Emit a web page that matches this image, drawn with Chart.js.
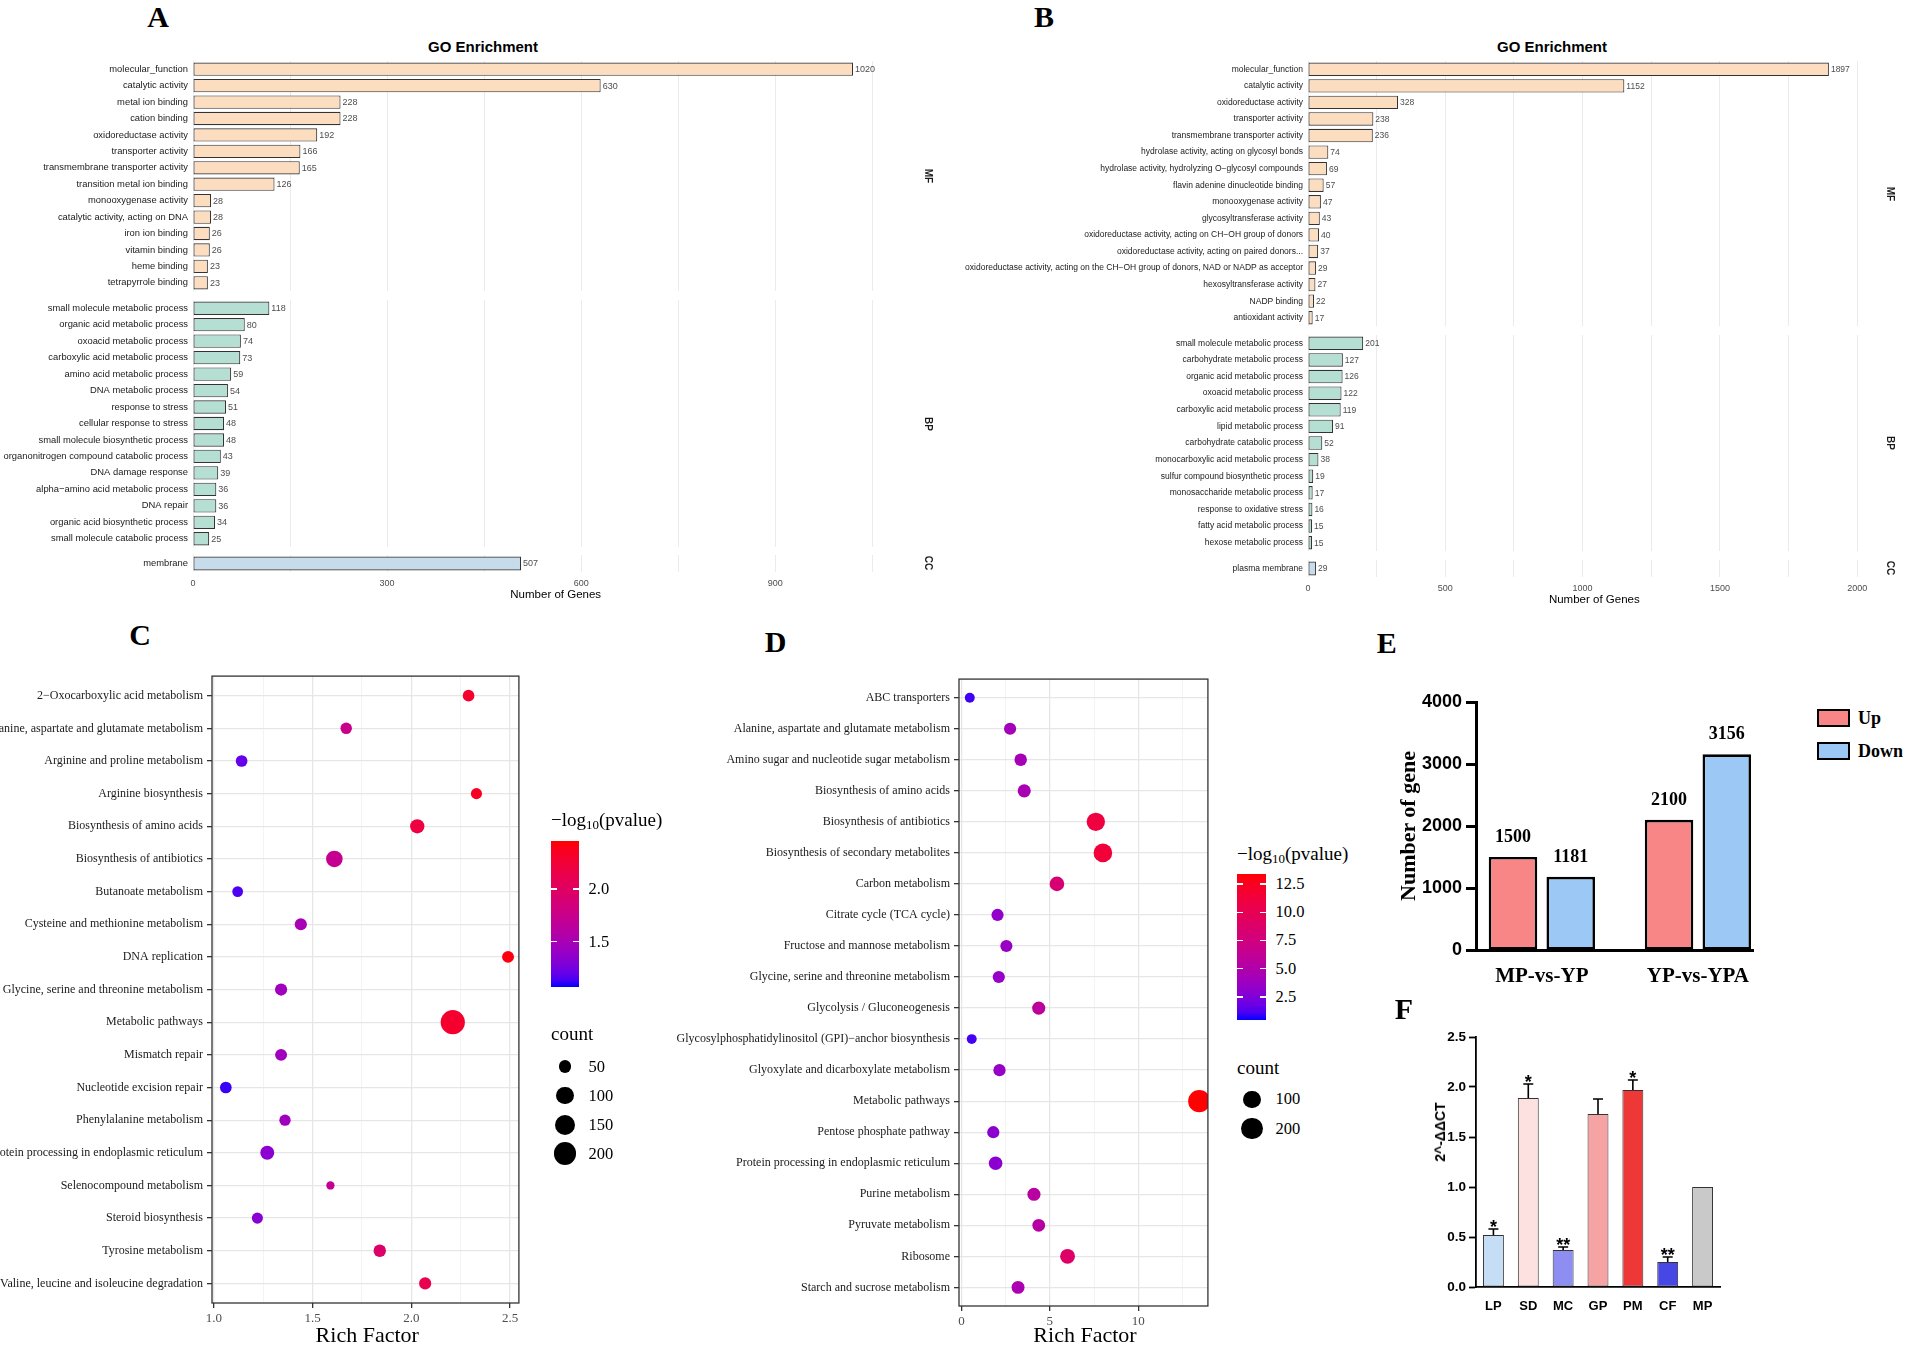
<!DOCTYPE html>
<html><head><meta charset="utf-8"><title>Figure</title>
<script src="https://cdn.jsdelivr.net/npm/chart.js@4.4.1/dist/chart.umd.min.js"></script>
<style>
html,body{margin:0;padding:0;background:#fff;}
#root{position:relative;width:1908px;height:1351px;overflow:hidden;background:#fff;}
#root canvas{position:absolute;}
.t{position:absolute;white-space:nowrap;line-height:1;}
.c{transform:translate(-50%,-50%);}
.lc{transform:translate(0,-50%);}
.rot{transform:translate(-50%,-50%) rotate(-90deg);}
.letter{font-family:"Liberation Serif",serif;font-weight:bold;font-size:30px;color:#000;}
.gotitle{font-family:"Liberation Sans",Arial,sans-serif;font-weight:bold;font-size:15px;color:#000;}
.xt{font-family:"Liberation Sans",Arial,sans-serif;font-size:11.5px;color:#000;}
.strip{font-family:"Liberation Sans",Arial,sans-serif;font-weight:bold;font-size:10px;color:#1a1a1a;transform:translate(-50%,-50%) rotate(90deg);}
.serif{font-family:"Liberation Serif",serif;color:#000;}
sub{font-size:68%;vertical-align:-0.28em;line-height:0;}
</style></head><body><div id="root"></div>
<script>
// ---------------- DATA ----------------
const A_MF_terms=['molecular_function','catalytic activity','metal ion binding','cation binding','oxidoreductase activity','transporter activity','transmembrane transporter activity','transition metal ion binding','monooxygenase activity','catalytic activity, acting on DNA','iron ion binding','vitamin binding','heme binding','tetrapyrrole binding'];
const A_MF_counts=[1020,630,228,228,192,166,165,126,28,28,26,26,23,23];
const A_BP_terms=['small molecule metabolic process','organic acid metabolic process','oxoacid metabolic process','carboxylic acid metabolic process','amino acid metabolic process','DNA metabolic process','response to stress','cellular response to stress','small molecule biosynthetic process','organonitrogen compound catabolic process','DNA damage response','alpha\u2212amino acid metabolic process','DNA repair','organic acid biosynthetic process','small molecule catabolic process'];
const A_BP_counts=[118,80,74,73,59,54,51,48,48,43,39,36,36,34,25];
const A_CC_terms=['membrane'];
const A_CC_counts=[507];
const A_xTicks=[0,300,600,900];

const B_MF_terms=['molecular_function','catalytic activity','oxidoreductase activity','transporter activity','transmembrane transporter activity','hydrolase activity, acting on glycosyl bonds','hydrolase activity, hydrolyzing O\u2212glycosyl compounds','flavin adenine dinucleotide binding','monooxygenase activity','glycosyltransferase activity','oxidoreductase activity, acting on CH\u2212OH group of donors','oxidoreductase activity, acting on paired donors...','oxidoreductase activity, acting on the CH\u2212OH group of donors, NAD or NADP as acceptor','hexosyltransferase activity','NADP binding','antioxidant activity'];
const B_MF_counts=[1897,1152,328,238,236,74,69,57,47,43,40,37,29,27,22,17];
const B_BP_terms=['small molecule metabolic process','carbohydrate metabolic process','organic acid metabolic process','oxoacid metabolic process','carboxylic acid metabolic process','lipid metabolic process','carbohydrate catabolic process','monocarboxylic acid metabolic process','sulfur compound biosynthetic process','monosaccharide metabolic process','response to oxidative stress','fatty acid metabolic process','hexose metabolic process'];
const B_BP_counts=[201,127,126,122,119,91,52,38,19,17,16,15,15];
const B_CC_terms=['plasma membrane'];
const B_CC_counts=[29];
const B_xTicks=[0,500,1000,1500,2000];

const C_terms=['2\u2212Oxocarboxylic acid metabolism','Alanine, aspartate and glutamate metabolism','Arginine and proline metabolism','Arginine biosynthesis','Biosynthesis of amino acids','Biosynthesis of antibiotics','Butanoate metabolism','Cysteine and methionine metabolism','DNA replication','Glycine, serine and threonine metabolism','Metabolic pathways','Mismatch repair','Nucleotide excision repair','Phenylalanine metabolism','Protein processing in endoplasmic reticulum','Selenocompound metabolism','Steroid biosynthesis','Tyrosine metabolism','Valine, leucine and isoleucine degradation'];
const C_rich=[2.29,1.67,1.14,2.33,2.03,1.61,1.12,1.44,2.49,1.34,2.21,1.34,1.06,1.36,1.27,1.59,1.22,1.84,2.07];
const C_logp=[2.30,1.76,1.20,2.35,2.20,1.72,1.15,1.50,2.43,1.45,2.30,1.45,1.11,1.45,1.34,1.70,1.33,1.95,2.12];
const C_count=[38,36,38,33,64,92,30,42,40,42,225,40,38,35,60,14,33,45,42];
const C_xTicks=[1.0,1.5,2.0,2.5];
const C_colorTicks=[1.5,2.0];
const C_sizeBreaks=[50,100,150,200];

const D_terms=['ABC transporters','Alanine, aspartate and glutamate metabolism','Amino sugar and nucleotide sugar metabolism','Biosynthesis of amino acids','Biosynthesis of antibiotics','Biosynthesis of secondary metabolites','Carbon metabolism','Citrate cycle (TCA cycle)','Fructose and mannose metabolism','Glycine, serine and threonine metabolism','Glycolysis / Gluconeogenesis','Glycosylphosphatidylinositol (GPI)\u2212anchor biosynthesis','Glyoxylate and dicarboxylate metabolism','Metabolic pathways','Pentose phosphate pathway','Protein processing in endoplasmic reticulum','Purine metabolism','Pyruvate metabolism','Ribosome','Starch and sucrose metabolism'];
const D_rich=[0.47,2.75,3.35,3.55,7.6,8.0,5.4,2.04,2.54,2.11,4.37,0.58,2.15,13.45,1.8,1.93,4.1,4.37,6.0,3.2];
const D_logp=[0.9,4.2,4.3,4.5,11.0,11.3,8.2,3.3,3.6,3.5,5.8,1.0,3.5,13.3,3.0,3.0,5.6,5.4,8.8,4.6];
const D_count=[12,30,33,40,120,125,58,30,30,30,40,12,30,205,30,45,40,36,62,38];
const D_xTicks=[0,5,10];
const D_colorTicks=[2.5,5.0,7.5,10.0,12.5];
const D_sizeBreaks=[100,200];

const E_groups=['MP-vs-YP','YP-vs-YPA'];
const E_up=[1500,2100];
const E_down=[1181,3156];
const E_yTicks=[0,1000,2000,3000,4000];

const F_samples=['LP','SD','MC','GP','PM','CF','MP'];
const F_values=[0.52,1.89,0.37,1.73,1.97,0.25,1.00];
const F_err=[0.06,0.14,0.03,0.15,0.10,0.05,0];
const F_sig=['*','*','**','','*','**',''];
const F_yTicks=[0,0.5,1.0,1.5,2.0,2.5];

// ---------------- HELPERS ----------------
const root=document.getElementById('root');
function txt(s,x,y,cls,style){const d=document.createElement('div');d.className='t '+cls;d.innerHTML=s;d.style.left=x+'px';d.style.top=y+'px';if(style)d.style.cssText+=';'+style;root.appendChild(d);return d;}
function box(x,y,w,h,style){const d=document.createElement('div');d.style.cssText='position:absolute;left:'+x+'px;top:'+y+'px;width:'+w+'px;height:'+h+'px;box-sizing:border-box;'+style;root.appendChild(d);return d;}
function mkCanvas(L,T,R,B,padL,padT,padR,padB){
  const x0=Math.round(L-padL),y0=Math.round(T-padT);
  const w=Math.round(R+padR)-x0,h=Math.round(B+padB)-y0;
  const c=document.createElement('canvas');
  c.width=w;c.height=h;c.style.left=x0+'px';c.style.top=y0+'px';c.style.width=w+'px';c.style.height=h+'px';
  root.appendChild(c);
  return {c,padL:Math.round(L)-x0,padT:Math.round(T)-y0,padR:x0+w-Math.round(R),padB:y0+h-Math.round(B)};
}
function fixW(w){return s=>{s.width=w;s.paddingTop=0;s.paddingBottom=0;s.paddingLeft=0;s.paddingRight=0;};}
function fixH(h){return s=>{s.height=h;s.paddingTop=0;s.paddingBottom=0;s.paddingLeft=0;s.paddingRight=0;};}
function s2l(c){c/=255;return c<=0.04045?c/12.92:Math.pow((c+0.055)/1.055,2.4);}
function l2s(c){c=c<=0.0031308?12.92*c:1.055*Math.pow(Math.max(c,0),1/2.4)-0.055;return Math.round(Math.max(0,Math.min(1,c))*255);}
function rgb2lab(r,g,b){const R=s2l(r),G=s2l(g),B=s2l(b);const X=(0.4124*R+0.3576*G+0.1805*B)/0.95047,Y=0.2126*R+0.7152*G+0.0722*B,Z=(0.0193*R+0.1192*G+0.9505*B)/1.08883;const f=t=>t>0.008856?Math.cbrt(t):7.787*t+16/116;const fx=f(X),fy=f(Y),fz=f(Z);return[116*fy-16,500*(fx-fy),200*(fy-fz)];}
function lab2rgb(L,a,b){const fy=(L+16)/116,fx=fy+a/500,fz=fy-b/200;const fi=t=>t*t*t>0.008856?t*t*t:(t-16/116)/7.787;const X=fi(fx)*0.95047,Y=fi(fy),Z=fi(fz)*1.08883;return[l2s(3.2406*X-1.5372*Y-0.4986*Z),l2s(-0.9689*X+1.8758*Y+0.0415*Z),l2s(0.0557*X-0.2040*Y+1.0570*Z)];}
const LAB_LO=rgb2lab(0,0,255),LAB_HI=rgb2lab(255,0,0);
function grad(t){t=Math.max(0,Math.min(1,t));const l=LAB_LO.map((v,i)=>v+(LAB_HI[i]-v)*t);const c=lab2rgb(l[0],l[1],l[2]);return 'rgb('+c[0]+','+c[1]+','+c[2]+')';}
const near=(a,v)=>a.some(t=>Math.abs(t-v)<1e-6);

const valueLabels={id:'vlab',afterDatasetsDraw(chart,args,o){
  const ctx=chart.ctx;const ds=chart.data.datasets;ctx.save();ctx.font=o.font;ctx.fillStyle=o.color;
  ds.forEach((d,di)=>{const meta=chart.getDatasetMeta(di);meta.data.forEach((bar,i)=>{
    const raw=d.data[i];const val=(raw!==null&&typeof raw==='object')?raw.y:raw;
    if(o.mode==='right'){ctx.textAlign='left';ctx.textBaseline='middle';ctx.fillText(String(val),bar.x+o.dx,bar.y+0.5);}
    else{ctx.textAlign='center';ctx.textBaseline='alphabetic';ctx.fillText(String(val),bar.x,bar.y-o.dy);}
  });});ctx.restore();}};
const framePlugin={id:'frame',afterDatasetsDraw(chart){const a=chart.chartArea,ctx=chart.ctx;ctx.save();ctx.strokeStyle='#333';ctx.lineWidth=1.3;ctx.strokeRect(a.left,a.top,a.right-a.left,a.bottom-a.top);ctx.restore();}};
const errPlugin={id:'errbars',afterDatasetsDraw(chart,args,o){
  const ys=chart.scales.y,ctx=chart.ctx,meta=chart.getDatasetMeta(0);ctx.save();ctx.strokeStyle='#000';ctx.lineWidth=1.6;ctx.fillStyle='#000';ctx.font=o.font;ctx.textAlign='center';ctx.textBaseline='alphabetic';
  meta.data.forEach((bar,i)=>{const top=ys.getPixelForValue(F_values[i]+F_err[i]);
    if(F_err[i]>0){ctx.beginPath();ctx.moveTo(bar.x,bar.y);ctx.lineTo(bar.x,top);ctx.moveTo(bar.x-o.cap,top);ctx.lineTo(bar.x+o.cap,top);ctx.stroke();}
    if(F_sig[i])ctx.fillText(F_sig[i],bar.x,top+o.dy);});
  ctx.restore();}};

Chart.defaults.animation=false;
Chart.defaults.plugins.legend.display=false;
Chart.defaults.plugins.tooltip.enabled=false;

// ---------------- GO FACETS ----------------
function goFacet(terms,counts,fill,o){
  const g=mkCanvas(o.L,o.T,o.R,o.B,o.labelW,2,30,o.axis?30:0);
  const grid=[];for(let v=0;v<=o.xmax;v+=o.minor)grid.push(v);
  return new Chart(g.c,{type:'bar',
    data:{labels:terms,datasets:[{data:counts,backgroundColor:fill,borderColor:'#333',borderWidth:1.1,borderSkipped:false,barPercentage:0.81,categoryPercentage:1}]},
    options:{indexAxis:'y',responsive:false,animation:false,events:[],
      layout:{padding:{left:0,top:g.padT,right:g.padR,bottom:0}},
      plugins:{legend:{display:false},tooltip:{enabled:false},vlab:{mode:'right',font:o.vfont,color:'#4d4d4d',dx:2}},
      scales:{
        x:{type:'linear',min:0,max:o.xmax,afterFit:fixH(g.padB),afterBuildTicks:s=>{s.ticks=grid.map(v=>({value:v}));},
          border:{display:false},grid:{color:'#ebebeb',lineWidth:1,drawTicks:false},
          ticks:{display:!!o.axis,autoSkip:false,maxRotation:0,padding:6,font:{family:'Liberation Sans',size:9},color:'#4d4d4d',callback:v=>near(o.ticks,v)?String(v):''}},
        y:{afterFit:fixW(g.padL),border:{display:false},grid:{display:false,drawTicks:false},
          ticks:{autoSkip:false,padding:5,font:{family:'Liberation Sans',size:o.lfont},color:'#1a1a1a'}}
      }},
    plugins:[valueLabels]});
}
const MF_FILL='#FDDDC0',BP_FILL='#B6DFD3',CC_FILL='#C6DCEB';
// Panel A
const A_L=192.8,A_R=918.6,A_MAX=1122;
const Acfg={L:A_L,R:A_R,labelW:A_L,xmax:A_MAX,minor:150,ticks:A_xTicks,lfont:9.4,vfont:'9px "Liberation Sans"'};
goFacet(A_MF_terms,A_MF_counts,MF_FILL,Object.assign({},Acfg,{T:61.1,B:291.4}));
goFacet(A_BP_terms,A_BP_counts,BP_FILL,Object.assign({},Acfg,{T:300.1,B:546.9}));
goFacet(A_CC_terms,A_CC_counts,CC_FILL,Object.assign({},Acfg,{T:555.1,B:571.5,axis:true}));
// Panel B
const B_L=1307.5,B_R=1881.1,B_MAX=2086.7;
const Bcfg={L:B_L,R:B_R,labelW:B_L-950,xmax:B_MAX,minor:250,ticks:B_xTicks,lfont:8.5,vfont:'8.5px "Liberation Sans"'};
goFacet(B_MF_terms,B_MF_counts,MF_FILL,Object.assign({},Bcfg,{T:61.0,B:326.3}));
goFacet(B_BP_terms,B_BP_counts,BP_FILL,Object.assign({},Bcfg,{T:335.0,B:550.5}));
goFacet(B_CC_terms,B_CC_counts,CC_FILL,Object.assign({},Bcfg,{T:560.0,B:576.6,axis:true}));

txt('A',158,17,'letter c');
txt('B',1044,17,'letter c');
txt('GO Enrichment',483,46,'gotitle c');
txt('GO Enrichment',1552,46,'gotitle c');
txt('Number of Genes',(A_L+A_R)/2,595,'xt c');
txt('Number of Genes',(B_L+B_R)/2,600,'xt c');
txt('MF',A_R+9,176.3,'strip');txt('BP',A_R+9,423.5,'strip');txt('CC',A_R+9,563.3,'strip');
txt('MF',B_R+9,193.7,'strip');txt('BP',B_R+9,442.8,'strip');txt('CC',B_R+9,568.3,'strip');

// ---------------- DOT PLOTS ----------------
const diaC=c=>3+1.414*Math.sqrt(c);
const diaD=c=>6+1.13*Math.sqrt(c);
function dotPlot(terms,rich,logp,cnt,o){
  const g=mkCanvas(o.L,o.T,o.R,o.B,o.padL,10,8,45);
  const rows=terms.map((t,i)=>i);
  const pts=terms.map((t,i)=>({x:rich[i],y:i}));
  return new Chart(g.c,{type:'scatter',
    data:{datasets:[{data:pts,pointBackgroundColor:logp.map(v=>grad((v-o.clo)/(o.chi-o.clo))),pointRadius:cnt.map(c=>o.dia(c)/2),pointBorderWidth:0,pointHoverRadius:cnt.map(c=>o.dia(c)/2)}]},
    options:{responsive:false,animation:false,events:[],
      layout:{padding:{left:0,top:g.padT,right:g.padR,bottom:0}},
      scales:{
        x:{type:'linear',min:o.xmin,max:o.xmax,afterFit:fixH(g.padB),afterBuildTicks:s=>{s.ticks=o.xgrid.map(v=>({value:v}));},
          border:{display:false},
          grid:{color:c=>near(o.xTicks,c.tick.value)?'#e6e6e6':'#f0f0f0',lineWidth:c=>near(o.xTicks,c.tick.value)?1.3:0.8,drawTicks:true,tickLength:5,tickWidth:1.3,tickColor:c=>near(o.xTicks,c.tick.value)?'#333':'rgba(0,0,0,0)'},
          ticks:{autoSkip:false,maxRotation:0,padding:3,font:{family:'Liberation Serif',size:13},color:'#4d4d4d',callback:v=>near(o.xTicks,v)?o.fmt(v):''}},
        y:{type:'linear',reverse:true,min:-0.6,max:terms.length-0.4,afterFit:fixW(g.padL),afterBuildTicks:s=>{s.ticks=rows.map(v=>({value:v}));},
          border:{display:false},
          grid:{color:'#e6e6e6',lineWidth:1.3,drawTicks:true,tickLength:5,tickWidth:1.3,tickColor:'#333'},
          ticks:{autoSkip:false,padding:o.lpad,font:{family:'Liberation Serif',size:12},color:'#1a1a1a',callback:v=>terms[Math.round(v)]||''}}
      }},
    plugins:[framePlugin]});
}
function midGrid(ticks,lo,hi){const st=(ticks[1]-ticks[0])/2;const out=[];const start=Math.ceil((lo-ticks[0])/st-1e-9);for(let k=start;ticks[0]+k*st<=hi+1e-9;k++)out.push(Math.round((ticks[0]+k*st)*1000)/1000);return out;}
// Panel C
const C_XMIN=0.99,C_XMAX=2.545;
dotPlot(C_terms,C_rich,C_logp,C_count,{L:212,R:522.5,T:674,B:1302.5,padL:212,lpad:4,xmin:C_XMIN,xmax:C_XMAX,xTicks:C_xTicks,xgrid:midGrid(C_xTicks,C_XMIN,C_XMAX),fmt:v=>v.toFixed(1),clo:1.07,chi:2.46,dia:diaC});
// Panel D
const D_XMIN=-0.14,D_XMAX=13.94;
dotPlot(D_terms,D_rich,D_logp,D_count,{L:959,R:1211,T:678,B:1306,padL:359,lpad:4,xmin:D_XMIN,xmax:D_XMAX,xTicks:D_xTicks,xgrid:midGrid(D_xTicks,D_XMIN,D_XMAX),fmt:v=>String(v),clo:0.46,chi:13.36,dia:diaD});

txt('C',140,635,'letter c');
txt('D',775.5,642,'letter c');
txt('Rich Factor',(212+522.5)/2,1335,'serif c','font-size:22px');
txt('Rich Factor',(959+1211)/2,1335,'serif c','font-size:22px');

function colorLegend(o){
  txt('\u2212log<sub>10</sub>(pvalue)',o.x,o.titleY,'serif lc','font-size:19px');
  const stops=[];for(let i=0;i<=20;i++)stops.push(grad(i/20)+' '+(i*5)+'%');
  box(o.x,o.top,o.w,o.h,'background:linear-gradient(to top,'+stops.join(',')+');');
  o.ticks.forEach(v=>{const y=o.top+o.h-(v-o.lo)/(o.hi-o.lo)*o.h;
    box(o.x,y-0.6,o.w/5,1.2,'background:#fff;');box(o.x+o.w-o.w/5,y-0.6,o.w/5,1.2,'background:#fff;');
    txt(o.fmt(v),o.x+o.w+9.5,y,'serif lc','font-size:16.5px');});
  txt('count',o.x,o.countY,'serif lc','font-size:19px');
  o.sizes.forEach((s,i)=>{const d=o.dia(s),y=o.sizeY[i];
    box(o.cx-d/2,y-d/2,d,d,'background:#000;border-radius:50%;');
    txt(String(s),o.x+o.w+9.5,y,'serif lc','font-size:16.5px');});
}
colorLegend({x:551,w:28,top:840.7,h:146,lo:1.07,hi:2.46,ticks:C_colorTicks,fmt:v=>v.toFixed(1),titleY:819,countY:1033,sizes:C_sizeBreaks,sizeY:[1066.7,1095.7,1124.7,1153.7],cx:565,dia:diaC});
colorLegend({x:1237,w:29,top:874.3,h:145.7,lo:0.46,hi:13.36,ticks:D_colorTicks,fmt:v=>v.toFixed(1),titleY:853,countY:1067,sizes:D_sizeBreaks,sizeY:[1099.3,1128.5],cx:1252,dia:diaD});

// ---------------- PANEL E ----------------
const AX_X=1476;
const E_XMIN=-0.422,E_XMAX=1.353;
(function(){
  const E_R=1752.5;
  const g=mkCanvas(AX_X,702,E_R,950,95,14,6,45);
  const grpIdx=E_groups.map((gname,i)=>i);
  new Chart(g.c,{type:'bar',
    data:{datasets:[
      {label:'Up',data:E_up.map((v,i)=>({x:grpIdx[i],y:v})),backgroundColor:'#F98686',borderColor:'#000',borderWidth:2.6,borderSkipped:false,barPercentage:0.84,categoryPercentage:0.74},
      {label:'Down',data:E_down.map((v,i)=>({x:grpIdx[i],y:v})),backgroundColor:'#9BC8F4',borderColor:'#000',borderWidth:2.6,borderSkipped:false,barPercentage:0.84,categoryPercentage:0.74}]},
    options:{responsive:false,animation:false,events:[],
      layout:{padding:{left:0,top:g.padT,right:g.padR,bottom:0}},
      plugins:{vlab:{mode:'top',font:'bold 18px "Liberation Serif"',color:'#000',dy:15}},
      scales:{
        x:{type:'linear',offset:false,min:E_XMIN,max:E_XMAX,afterFit:fixH(g.padB),afterBuildTicks:s=>{s.ticks=grpIdx.map(v=>({value:v}));},
          border:{display:true,color:'#000',width:3},grid:{display:true,drawOnChartArea:false,drawTicks:false},
          ticks:{autoSkip:false,maxRotation:0,padding:14,font:{family:'Liberation Serif',size:21,weight:'bold'},color:'#000',callback:v=>E_groups[Math.round(v)]||''}},
        y:{min:0,max:4000,afterFit:fixW(g.padL),border:{display:true,color:'#000',width:3},
          grid:{display:true,drawOnChartArea:false,drawTicks:true,tickLength:10,tickWidth:3,tickColor:'#000'},
          ticks:{stepSize:1000,padding:4,font:{family:'Liberation Sans',size:18,weight:'bold'},color:'#000',callback:v=>near(E_yTicks,v)?String(v):''}}
      }},
    plugins:[valueLabels]});
})();
txt('E',1386.7,642.5,'letter c');
txt('Number of gene',1408,826,'serif rot','font-size:22px;font-weight:bold;');
box(1817,709,33,18,'background:#F98686;border:2.5px solid #000;');
box(1817,742,33,18,'background:#9BC8F4;border:2.5px solid #000;');
txt('Up',1858,718,'serif lc','font-size:18px;font-weight:bold;');
txt('Down',1858,751,'serif lc','font-size:18px;font-weight:bold;');

// ---------------- PANEL F ----------------
(function(){
  const g=mkCanvas(AX_X,1037,1720,1287,60,14,6,40);
  new Chart(g.c,{type:'bar',
    data:{labels:F_samples,datasets:[{data:F_values,backgroundColor:['#C6DDF6','#FDE1E1','#8E8DF2','#F5A3A3','#EE3838','#4747E6','#C9C9C9'],borderColor:'#333',borderWidth:1,borderSkipped:false,barPercentage:0.6,categoryPercentage:1}]},
    options:{responsive:false,animation:false,events:[],
      layout:{padding:{left:0,top:g.padT,right:g.padR,bottom:0}},
      plugins:{errbars:{font:'bold 18px "Liberation Sans"',cap:5,dy:4}},
      scales:{
        x:{afterFit:fixH(g.padB),border:{display:true,color:'#000',width:1.8},grid:{display:true,drawOnChartArea:false,drawTicks:false},
          ticks:{padding:12,font:{family:'Liberation Sans',size:13,weight:'bold'},color:'#000'}},
        y:{min:0,max:2.5,afterFit:fixW(g.padL),border:{display:true,color:'#000',width:1.8},
          grid:{display:true,drawOnChartArea:false,drawTicks:true,tickLength:7,tickWidth:1.8,tickColor:'#000'},
          ticks:{stepSize:0.5,padding:3,font:{family:'Liberation Sans',size:13.5,weight:'bold'},color:'#000',callback:v=>near(F_yTicks,v)?v.toFixed(1):''}}
      }},
    plugins:[errPlugin]});
})();
txt('F',1404,1009,'letter c');
txt('2^-\u0394\u0394CT',AX_X-36,1132,'rot','font-family:"Liberation Sans";font-weight:bold;font-size:14px;');
</script></body></html>
